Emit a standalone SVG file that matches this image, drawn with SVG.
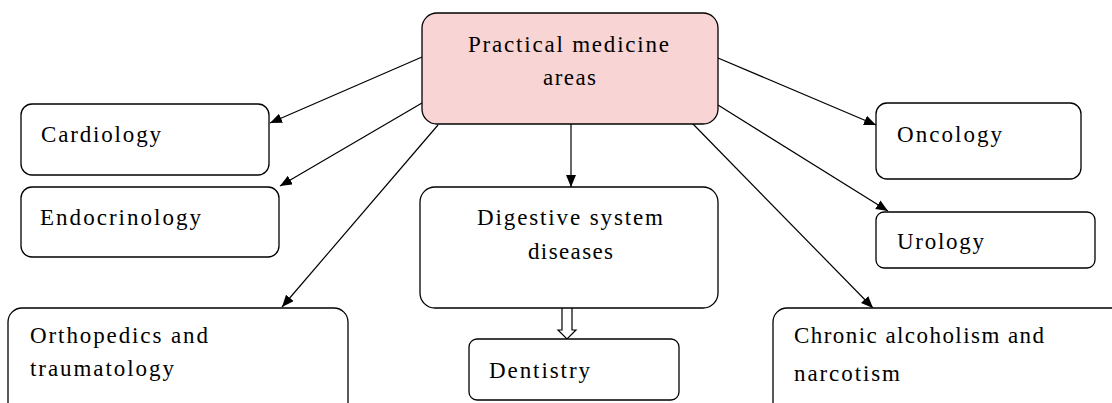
<svg xmlns="http://www.w3.org/2000/svg" width="1112" height="403" viewBox="0 0 1112 403">
<defs>
<style>
.box{fill:#fff;stroke:#000;stroke-width:1.3}
.main{fill:#f9d4d4;stroke:#000;stroke-width:1.3}
text{font-family:"Liberation Serif","Times New Roman",serif;font-size:23px;fill:#000}
.c{stroke:#000;stroke-width:1.2;fill:none}
</style>
<marker id="ah" markerUnits="userSpaceOnUse" markerWidth="14" markerHeight="12" refX="12" refY="5" orient="auto">
<path d="M0,0 L12,5 L0,10 Z" fill="#000"/>
</marker>
</defs>
<rect width="1112" height="403" fill="#fff"/>
<g id="connectors">
<line class="c" x1="422" y1="57" x2="270" y2="123" marker-end="url(#ah)"/>
<line class="c" x1="422" y1="103" x2="280" y2="186" marker-end="url(#ah)"/>
<line class="c" x1="438" y1="125" x2="282" y2="307" marker-end="url(#ah)"/>
<line class="c" x1="571" y1="124" x2="571" y2="187" marker-end="url(#ah)"/>
<line class="c" x1="718" y1="58" x2="876" y2="125" marker-end="url(#ah)"/>
<line class="c" x1="718" y1="105" x2="888" y2="211" marker-end="url(#ah)"/>
<line class="c" x1="693" y1="124" x2="873" y2="308" marker-end="url(#ah)"/>
<path class="c" d="M562,308 L562,330 L558,330 L567,339 L576,330 L572,330 L572,308" fill="#fff"/>
</g>
<g id="main">
<rect class="main" x="422" y="13" width="296" height="111" rx="15"/>
<text x="468" y="52" textLength="201" lengthAdjust="spacing">Practical medicine</text>
<text x="543" y="85" textLength="53" lengthAdjust="spacing">areas</text>
</g>
<g id="cardiology">
<rect class="box" x="21" y="104" width="248" height="71" rx="11"/>
<text x="41" y="142" textLength="120" lengthAdjust="spacing">Cardiology</text>
</g>
<g id="endocrinology">
<rect class="box" x="21" y="187" width="258" height="70" rx="11"/>
<text x="40" y="225" textLength="161" lengthAdjust="spacing">Endocrinology</text>
</g>
<g id="digestive">
<rect class="box" x="420" y="187" width="298" height="121" rx="15"/>
<text x="477" y="225" textLength="186" lengthAdjust="spacing">Digestive system</text>
<text x="528" y="259" textLength="85" lengthAdjust="spacing">diseases</text>
</g>
<g id="dentistry">
<rect class="box" x="469" y="339" width="210" height="61" rx="8"/>
<text x="489" y="378" textLength="101" lengthAdjust="spacing">Dentistry</text>
</g>
<g id="orthopedics">
<rect class="box" x="8" y="308" width="340" height="110" rx="14"/>
<text x="30" y="343" textLength="178" lengthAdjust="spacing">Orthopedics and</text>
<text x="30" y="376" textLength="144" lengthAdjust="spacing">traumatology</text>
</g>
<g id="oncology">
<rect class="box" x="876" y="103" width="205" height="76" rx="11"/>
<text x="897" y="142" textLength="105" lengthAdjust="spacing">Oncology</text>
</g>
<g id="urology">
<rect class="box" x="876" y="212" width="219" height="56" rx="8"/>
<text x="897" y="249" textLength="87" lengthAdjust="spacing">Urology</text>
</g>
<g id="chronic">
<rect class="box" x="773" y="308" width="360" height="110" rx="14"/>
<text x="794" y="343" textLength="250" lengthAdjust="spacing">Chronic alcoholism and</text>
<text x="794" y="381" textLength="106" lengthAdjust="spacing">narcotism</text>
</g>
</svg>
